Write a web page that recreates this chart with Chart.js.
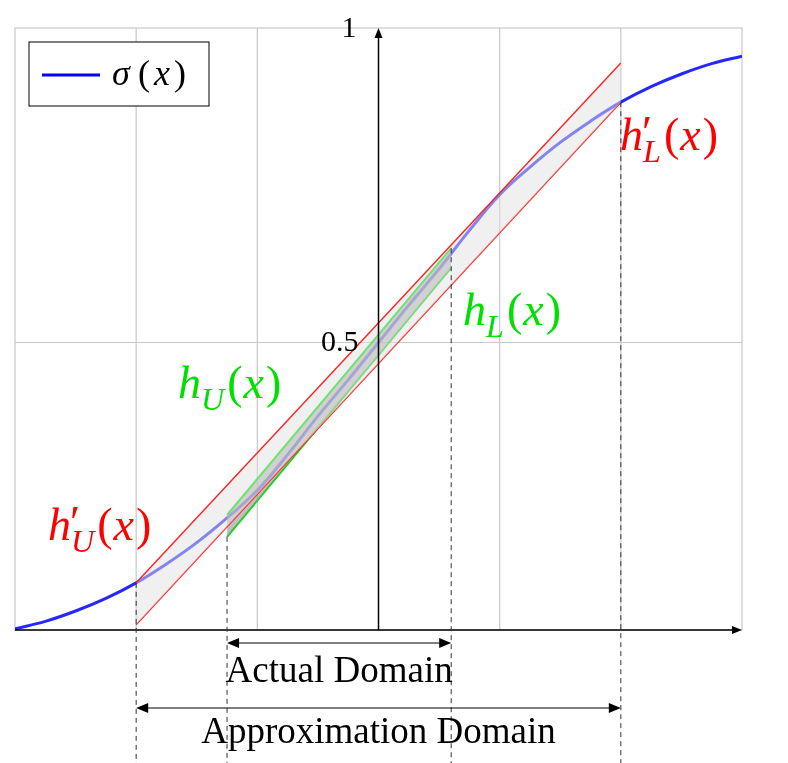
<!DOCTYPE html>
<html>
<head>
<meta charset="utf-8">
<script src="https://cdn.jsdelivr.net/npm/chart.js@4"></script>
<style>
  html, body { margin: 0; padding: 0; background: #fff; }
  #wrap { width: 788px; height: 763px; }
</style>
</head>
<body>
<div id="wrap"><canvas id="c"></canvas></div>
<script>
// blue curve
const curveX = [-3, -2.75, -2.5, -2.25, -2, -1.75, -1.5, -1.25, -1, -0.75, -0.5, -0.25, 0,
                0.25, 0.5, 0.75, 1, 1.25, 1.5, 1.75, 2, 2.25, 2.5, 2.75, 3];
const curveY = [0.002, 0.015, 0.033, 0.055, 0.082, 0.115, 0.152, 0.195, 0.243, 0.305, 0.372, 0.435, 0.5,
                0.565, 0.628, 0.695, 0.757, 0.805, 0.848, 0.885, 0.918, 0.945, 0.967, 0.985, 0.998];
// red bounds over the approximation domain
const redX = [-2, 2];
const redUpper = [0.082, 0.986];
const redLower = [0.009, 0.918];
// green bounds over the actual domain
const greenX = [-1.25, 0.6];
const greenUpper = [0.2, 0.664];
const greenLower = [0.162, 0.63];
const gridX = [-2, -1, 1, 2];
const gridY = [0.5];
const yTickLabels = [[1.047, '1'], [0.5, '0.5']];

const pts = (xs, ys) => xs.map((x, i) => ({x: x, y: ys[i]}));
const SERIF = '"Liberation Serif", "DejaVu Serif", serif';

// draw h'_U(x) style label with subscript
function mathLabel(ctx, x, y, sub, prime, color, size) {
    ctx.save();
    ctx.fillStyle = color;
    ctx.textBaseline = 'alphabetic';
    ctx.textAlign = 'left';
    ctx.font = 'italic ' + size + 'px ' + SERIF;
    ctx.fillText('h', x, y);
    let cx = x + ctx.measureText('h').width;
    if (prime) {
        ctx.font = size + 'px ' + SERIF;
        ctx.fillText('′', cx - 1, y - 2);
    }
    ctx.font = 'italic ' + (size * 0.7) + 'px ' + SERIF;
    ctx.fillText(sub, cx, y + size * 0.25);
    cx += ctx.measureText(sub).width + 3;
    ctx.font = size + 'px ' + SERIF;
    ctx.fillText('(', cx, y);
    cx += ctx.measureText('(').width + 1;
    ctx.font = 'italic ' + size + 'px ' + SERIF;
    ctx.fillText('x', cx, y);
    cx += ctx.measureText('x').width + 2;
    ctx.font = size + 'px ' + SERIF;
    ctx.fillText(')', cx, y);
    ctx.restore();
}

function arrowHead(ctx, x, y, dir, len, w) {
    ctx.beginPath();
    ctx.moveTo(x, y);
    if (dir === 'r') { ctx.lineTo(x - len, y - w); ctx.lineTo(x - len, y + w); }
    if (dir === 'l') { ctx.lineTo(x + len, y - w); ctx.lineTo(x + len, y + w); }
    if (dir === 'u') { ctx.lineTo(x - w, y + len); ctx.lineTo(x + w, y + len); }
    ctx.closePath();
    ctx.fill();
}

const decor = {
    id: 'decor',
    beforeDatasetsDraw(chart) {
        const {ctx, chartArea: a, scales: {x, y}} = chart;
        ctx.save();
        ctx.strokeStyle = '#c8c8c8';
        ctx.lineWidth = 1.2;
        gridX.forEach(v => {
            ctx.beginPath(); ctx.moveTo(x.getPixelForValue(v), a.top); ctx.lineTo(x.getPixelForValue(v), a.bottom); ctx.stroke();
        });
        gridY.forEach(v => {
            ctx.beginPath(); ctx.moveTo(a.left, y.getPixelForValue(v)); ctx.lineTo(a.right, y.getPixelForValue(v)); ctx.stroke();
        });
        ctx.strokeRect(a.left, a.top, a.right - a.left, a.bottom - a.top);
        ctx.restore();
    },
    afterDatasetsDraw(chart) {
        const {ctx, chartArea: a, scales: {x, y}} = chart;
        const y0 = y.getPixelForValue(0);
        const x0 = x.getPixelForValue(0);
        ctx.save();
        // axes
        ctx.strokeStyle = '#000'; ctx.fillStyle = '#000'; ctx.lineWidth = 1.5;
        ctx.beginPath(); ctx.moveTo(a.left, y0); ctx.lineTo(a.right - 4, y0); ctx.stroke();
        arrowHead(ctx, a.right, y0, 'r', 10, 4);
        ctx.beginPath(); ctx.moveTo(x0, y0); ctx.lineTo(x0, a.top + 4); ctx.stroke();
        arrowHead(ctx, x0, a.top, 'u', 10, 4);
        ctx.font = '30px ' + SERIF;
        ctx.textAlign = 'right'; ctx.textBaseline = 'middle';
        yTickLabels.forEach(t => ctx.fillText(t[1], x0 - (t[1] === '1' ? 22 : 20), y.getPixelForValue(t[0]) + 1));
        // dashed domain markers
        ctx.setLineDash([5, 4]); ctx.lineWidth = 1; ctx.strokeStyle = '#333';
        [[redX[0], curveY[4]], [greenX[0], greenLower[0]], [greenX[1], greenUpper[1]], [redX[1], redLower[1]]].forEach(p => {
            const px = x.getPixelForValue(p[0]);
            ctx.beginPath(); ctx.moveTo(px, y.getPixelForValue(p[1])); ctx.lineTo(px, 763); ctx.stroke();
        });
        ctx.setLineDash([]);
        // domain arrows
        const dom = (xa, xb, py, label, ty, fs) => {
            const pa = x.getPixelForValue(xa), pb = x.getPixelForValue(xb);
            ctx.strokeStyle = '#000'; ctx.fillStyle = '#000'; ctx.lineWidth = 1;
            ctx.beginPath(); ctx.moveTo(pa + 8, py); ctx.lineTo(pb - 8, py); ctx.stroke();
            arrowHead(ctx, pa, py, 'l', 12, 5);
            arrowHead(ctx, pb, py, 'r', 12, 5);
            ctx.textAlign = 'center'; ctx.textBaseline = 'middle';
            ctx.font = fs + 'px ' + SERIF;
            ctx.fillText(label, (pa + pb) / 2, ty);
        };
        dom(greenX[0], greenX[1], 643, 'Actual Domain', 672, 37);
        dom(redX[0], redX[1], 708, 'Approximation Domain', 733, 37);
        // labels
        mathLabel(ctx, 48, 540, 'U', true, '#ff0000', 46);
        mathLabel(ctx, 620, 150, 'L', true, '#ff0000', 46);
        mathLabel(ctx, 178, 398, 'U', false, '#00e000', 46);
        mathLabel(ctx, 463, 325, 'L', false, '#00e000', 46);
        // legend
        ctx.fillStyle = '#fff'; ctx.strokeStyle = '#000'; ctx.lineWidth = 1;
        ctx.fillRect(29, 42, 180, 64); ctx.strokeRect(29, 42, 180, 64);
        ctx.strokeStyle = '#0000ff'; ctx.lineWidth = 3;
        ctx.beginPath(); ctx.moveTo(42, 75); ctx.lineTo(100, 75); ctx.stroke();
        ctx.fillStyle = '#000'; ctx.textAlign = 'left'; ctx.textBaseline = 'middle';
        ctx.font = 'italic 36px ' + SERIF; ctx.fillText('σ', 112, 76);
        ctx.font = '36px ' + SERIF; ctx.fillText('(', 138, 76);
        ctx.font = 'italic 36px ' + SERIF; ctx.fillText('x', 154, 76);
        ctx.font = '36px ' + SERIF; ctx.fillText(')', 174, 76);
        ctx.restore();
    }
};

new Chart(document.getElementById('c'), {
    type: 'line',
    data: {
        datasets: [
            {data: pts(redX, redUpper), borderColor: '#ff2020', borderWidth: 1.4, pointRadius: 0,
             fill: '+1', backgroundColor: 'rgba(225,225,225,0.5)'},
            {data: pts(redX, redLower), borderColor: '#ff2020', borderWidth: 1.4, pointRadius: 0, fill: false},
            {data: pts(greenX, greenUpper), borderColor: '#00e000', borderWidth: 2, pointRadius: 0,
             fill: '+1', backgroundColor: 'rgba(150,150,150,0.6)'},
            {data: pts(greenX, greenLower), borderColor: '#00e000', borderWidth: 2, pointRadius: 0, fill: false},
            {data: pts(curveX, curveY), borderColor: 'rgba(0,0,255,0.85)', borderWidth: 3, pointRadius: 0,
             tension: 0.4, fill: false}
        ]
    },
    options: {
        responsive: true,
        maintainAspectRatio: false,
        animation: false,
        events: [],
        layout: {padding: {left: 15, right: 46, top: 28, bottom: 133}},
        plugins: {legend: {display: false}, tooltip: {enabled: false}},
        scales: {
            x: {type: 'linear', min: -3, max: 3, display: false},
            y: {type: 'linear', min: 0, max: 1.047, display: false}
        }
    },
    plugins: [decor]
});
</script>
</body>
</html>
